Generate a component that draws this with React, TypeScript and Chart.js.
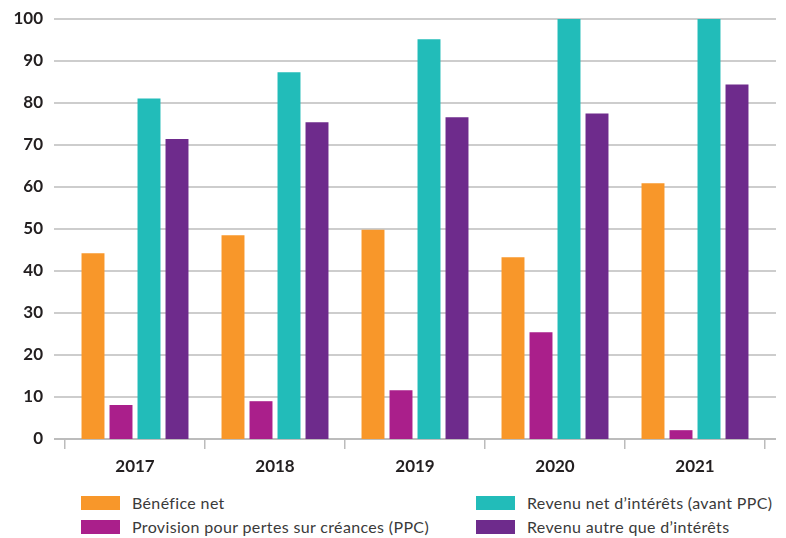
import React, { useEffect, useRef } from 'react';
import { Chart, registerables } from 'chart.js';

Chart.register(...registerables);

const categories = ['2017', '2018', '2019', '2020', '2021'];
const beneficeNet = [44.2, 48.5, 49.8, 43.3, 60.9];
const provisionPPC = [8.1, 9.0, 11.6, 25.4, 2.1];
const revenuNetInterets = [81.1, 87.3, 95.2, 104, 108];
const revenuAutre = [71.4, 75.4, 76.6, 77.5, 84.4];
const yTicks = [0, 10, 20, 30, 40, 50, 60, 70, 80, 90, 100];

const seriesLabels = [
  'Bénéfice net',
  'Provision pour pertes sur créances (PPC)',
  'Revenu net d’intérêts (avant PPC)',
  'Revenu autre que d’intérêts',
];
const seriesColors = ['#F8972A', '#AA1F8B', '#22BCB9', '#6E2B8C'];
const seriesData = [beneficeNet, provisionPPC, revenuNetInterets, revenuAutre];

const FONT = 'Lato, "Open Sans", "DejaVu Sans", sans-serif';

const gridPlugin = {
  id: 'extGrid',
  beforeDatasetsDraw(chart: any) {
    const { ctx, chartArea, scales } = chart;
    const y = scales.y;
    ctx.save();
    ctx.lineWidth = 2;
    yTicks.forEach((v) => {
      const py = Math.round(y.getPixelForValue(v));
      ctx.strokeStyle = v === 0 ? '#bcbcbc' : '#cdcdcd';
      ctx.beginPath();
      ctx.moveTo(chartArea.left - 11, py);
      ctx.lineTo(chartArea.right + 11, py);
      ctx.stroke();
    });
    ctx.restore();
  },
};

export default function App() {
  const ref = useRef<HTMLCanvasElement | null>(null);

  useEffect(() => {
    if (!ref.current) return;
    const chart = new Chart(ref.current, {
      type: 'bar',
      data: {
        labels: categories,
        datasets: seriesData.map((d, i) => ({
          label: seriesLabels[i],
          data: d,
          backgroundColor: seriesColors[i],
          borderWidth: 0,
          categoryPercentage: 0.8,
          barPercentage: 0.82,
        })),
      },
      options: {
        responsive: false,
        animation: false,
        layout: { padding: { top: 19, right: 21, left: 0, bottom: 0 } },
        plugins: {
          legend: { display: false },
          tooltip: { enabled: false },
        },
        scales: {
          x: {
            grid: {
              display: true,
              drawOnChartArea: false,
              drawTicks: true,
              tickLength: 10,
              color: '#bcbcbc',
              lineWidth: 1.5,
              offset: true,
            },
            border: { display: false },
            ticks: {
              font: { family: FONT, size: 17, weight: 'bold' },
              color: '#231f20',
              padding: 7,
            },
            afterFit: (s: any) => {
              s.height = 41;
              s.paddingLeft = 0;
              s.paddingRight = 0;
            },
          },
          y: {
            min: 0,
            max: 100,
            grid: { display: false, drawTicks: false },
            border: { display: false },
            ticks: {
              stepSize: 10,
              padding: 22,
              font: { family: FONT, size: 17, weight: 'bold' },
              color: '#231f20',
            },
            afterFit: (s: any) => {
              s.width = 65;
              s.paddingTop = 0;
              s.paddingBottom = 0;
            },
          },
        },
      } as any,
      plugins: [gridPlugin],
    });
    return () => chart.destroy();
  }, []);

  const legendPos = [
    { left: 81, top: 496 },
    { left: 81, top: 520 },
    { left: 476, top: 496 },
    { left: 476, top: 520 },
  ];

  return (
    <div style={{ position: 'absolute', left: 0, top: 0, width: 786, height: 538, background: '#fff' }}>
      <canvas ref={ref} width={786} height={480} style={{ display: 'block' }} />
      {seriesLabels.map((lab, i) => (
        <div
          key={lab}
          style={{
            position: 'absolute',
            left: legendPos[i].left,
            top: legendPos[i].top,
            height: 14,
            display: 'flex',
            alignItems: 'center',
            whiteSpace: 'nowrap',
          }}
        >
          <span style={{ display: 'inline-block', width: 39, height: 14, background: seriesColors[i] }} />
          <span
            style={{
              marginLeft: 12,
              fontFamily: FONT,
              fontSize: 16,
              letterSpacing: '0.35px',
              color: '#3a3a3a',
              lineHeight: '14px',
            }}
          >
            {lab}
          </span>
        </div>
      ))}
    </div>
  );
}
